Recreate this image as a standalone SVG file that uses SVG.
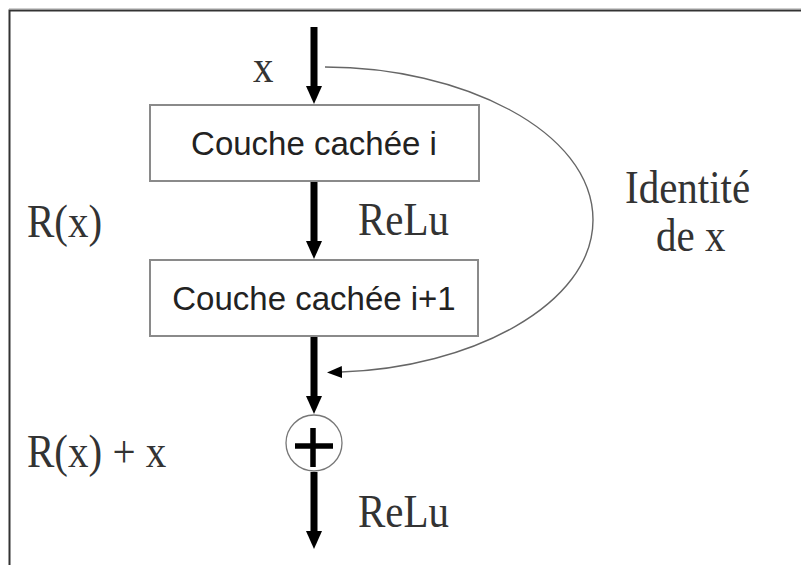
<svg xmlns="http://www.w3.org/2000/svg" width="801" height="565" viewBox="0 0 801 565">
  <style>
    .box { fill: #ffffff; stroke: #8a8a8a; stroke-width: 2; }
    .sans { font-family: "Liberation Sans", Arial, sans-serif; font-size: 33px; fill: #222; text-anchor: middle; }
    .serif { font-family: "Liberation Serif", "Times New Roman", serif; font-size: 41px; fill: #333; }
    .shaft { stroke: #000; stroke-width: 7; fill: none; }
    .skip { stroke: #666; stroke-width: 1.4; fill: none; }
  </style>
  <defs>
    <marker id="bighead" markerUnits="userSpaceOnUse" markerWidth="20" markerHeight="18" refX="1" refY="8" orient="auto">
      <path d="M0,0 L18,8 L0,16 z" fill="#000"/>
    </marker>
    <marker id="smallhead" markerUnits="userSpaceOnUse" markerWidth="16" markerHeight="14" refX="1" refY="6" orient="auto">
      <path d="M0,0 L15,6 L0,12 z" fill="#000"/>
    </marker>
  </defs>
  <rect x="0" y="0" width="801" height="565" fill="#ffffff"/>
  <g id="frame">
    <line x1="9" y1="8.5" x2="801" y2="8.5" stroke="#cfcfcf" stroke-width="1"/>
    <path d="M9.5,565 L9.5,10.5 L801,10.5" fill="none" stroke="#333" stroke-width="2"/>
  </g>
  <g id="connectors">
    <line class="shaft" x1="314" y1="27" x2="314" y2="87" marker-end="url(#bighead)"/>
    <line class="shaft" x1="314" y1="181" x2="314" y2="242" marker-end="url(#bighead)"/>
    <line class="shaft" x1="314" y1="336" x2="314" y2="397" marker-end="url(#bighead)"/>
    <line class="shaft" x1="314" y1="472" x2="314" y2="532" marker-end="url(#bighead)"/>
    <path class="skip" d="M325,67 C460,67 593,130 593,220 C593,305 470,368 341,372" marker-end="url(#smallhead)"/>
  </g>
  <g id="label-x">
    <text class="serif" transform="translate(253,82) scale(1,1.12)">x</text>
  </g>
  <g id="layer-i">
    <rect class="box" x="150" y="105" width="329" height="76"/>
    <text class="sans" x="314" y="155">Couche cachée i</text>
  </g>
  <g id="label-relu-1">
    <text class="serif" transform="translate(358,235) scale(1,1.12)">ReLu</text>
  </g>
  <g id="label-rx">
    <text class="serif" transform="translate(27,237) scale(1,1.12)">R(x)</text>
  </g>
  <g id="layer-i1">
    <rect class="box" x="150" y="260" width="328" height="76"/>
    <text class="sans" x="314" y="310">Couche cachée i+1</text>
  </g>
  <g id="label-identite">
    <text class="serif" transform="translate(625,203) scale(1,1.12)">Identité</text>
    <text class="serif" transform="translate(656,251) scale(1,1.12)">de x</text>
  </g>
  <g id="sum">
    <circle cx="314" cy="443" r="28" fill="#fff" stroke="#777" stroke-width="1.3"/>
    <line x1="295" y1="446" x2="333" y2="446" stroke="#000" stroke-width="5.5"/>
    <line x1="313" y1="428" x2="313" y2="467" stroke="#000" stroke-width="5.5"/>
  </g>
  <g id="label-rx-plus-x">
    <text class="serif" transform="translate(27,467) scale(1,1.12)">R(x) + x</text>
  </g>
  <g id="label-relu-2">
    <text class="serif" transform="translate(358,527) scale(1,1.12)">ReLu</text>
  </g>
</svg>
